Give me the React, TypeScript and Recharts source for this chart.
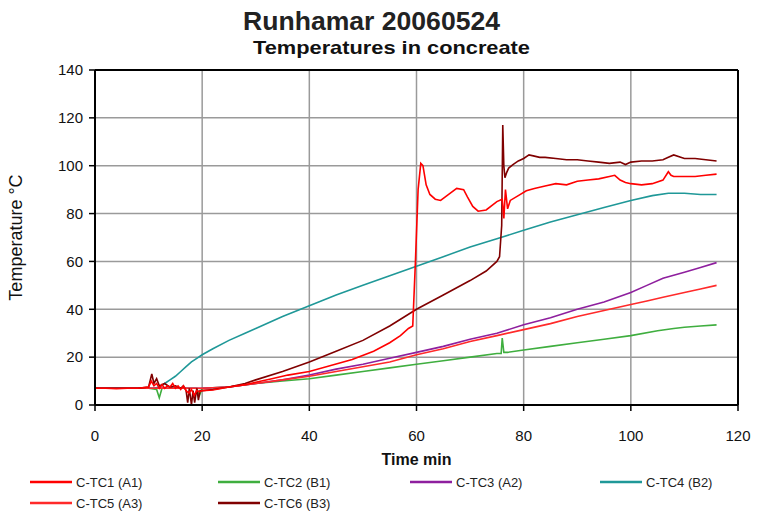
import React from "react";
import {
  CartesianGrid,
  Line,
  LineChart,
  ReferenceLine,
  XAxis,
  YAxis,
} from "recharts";

// Time ticks (min) and temperature ticks (°C)
const X_TICKS = [0, 20, 40, 60, 80, 100, 120];
const Y_TICKS = [0, 20, 40, 60, 80, 100, 120, 140];

// C-TC1 (A1)
const TC1_T = [
  0, 2, 4, 6, 8, 10, 10.5, 11, 11.5, 12, 12.5, 13, 13.5, 14, 14.5, 15, 15.5, 16,
  16.5, 17, 17.5, 18, 18.5, 19, 19.5, 20, 22, 25, 28, 30, 33, 36, 40, 44, 48,
  52, 55, 57, 58.5, 59.3, 59.8, 60.3, 60.8, 61.2, 61.8, 62.5, 63.5, 64.5, 66,
  67.5, 68.8, 69.5, 70.5, 71.5, 73, 75, 76, 76.3, 76.6, 77, 77.5, 79, 80.5, 82,
  84, 86, 88, 90, 92, 94, 96, 97, 98, 99, 100, 102, 104, 106, 107, 107.5, 108,
  110, 112, 114, 116,
];
const TC1_V = [
  7, 7, 6.8, 7, 7, 7.5, 10, 8, 9, 7, 8.5, 7, 8, 7.5, 9, 7, 8, 6.5, 8, 6, 5, 6.5,
  4, 6, 5.5, 6, 6.3, 7.5, 8.5, 9.5, 11, 12.5, 14, 16.5, 19, 22.5, 26, 29, 32,
  33, 60, 90, 101, 100, 92, 88, 86, 85.5, 88, 90.5, 90, 87, 83, 81, 81.5, 85,
  86, 78, 90, 82, 85.5, 87.5, 89.5, 90.5, 91.5, 92.5, 92, 93.5, 94, 94.5, 95.5,
  96, 94, 93, 92.5, 92, 92.5, 94, 97.5, 96, 95.5, 95.5, 95.5, 96, 96.5,
];

// C-TC2 (B1)
const TC2_T = [
  0, 5, 10, 11.5, 12, 12.5, 15, 19, 19.5, 20, 25, 30, 35, 40, 45, 50, 55, 60,
  65, 70, 75, 75.8, 76, 76.3, 77, 80, 85, 90, 95, 100, 105, 108, 110, 113, 116,
];
const TC2_V = [
  7, 7, 7, 6.5, 3, 7, 7, 7, 4, 7, 7.5, 9, 10, 11, 12.5, 14, 15.5, 17, 18.5, 20,
  21.5, 21.5, 28, 22, 22, 23, 24.5, 26, 27.5, 29, 31, 32, 32.5, 33, 33.5,
];

// C-TC3 (A2) and C-TC5 (A3) share one time grid
const TC35_T = [
  0, 5, 10, 15, 20, 25, 30, 35, 40, 45, 50, 55, 60, 65, 70, 75, 80, 85, 90, 95,
  100, 103, 106, 110, 113, 116,
];
const TC3_V = [
  7, 7, 7, 7, 7, 7.5, 9, 10.5, 12.5, 15, 17, 19.5, 22, 24.5, 27.5, 30, 33.5,
  36.5, 40, 43, 47, 50, 53, 55.5, 57.5, 59.5,
];
const TC5_V = [
  7, 7, 7, 7, 7, 7.5, 9, 10.5, 12, 14, 16, 18, 21, 23.5, 26.5, 29, 31.5, 34, 37,
  39.5, 42, 43.5, 45, 47, 48.5, 50,
];

// C-TC4 (B2)
const TC4_T = [
  0, 4, 8, 11, 12, 13, 14, 15, 16, 17, 18, 19, 20, 22, 25, 28, 30, 35, 40, 45,
  50, 55, 60, 65, 70, 75, 80, 85, 90, 95, 100, 104, 107, 110, 113, 116,
];
const TC4_V = [
  7, 7, 7, 7, 7.5, 9, 10.5, 12, 14, 16, 18, 19.5, 21, 23.5, 27, 30, 32, 37,
  41.5, 46, 50, 54, 58, 62, 66, 69.5, 73, 76.5, 79.5, 82.5, 85.5, 87.5, 88.5,
  88.5, 88, 88,
];

// C-TC6 (B3)
const TC6_T = [
  0, 2, 4, 6, 8, 10, 10.6, 11, 11.5, 12, 13, 14, 15, 16, 16.5, 17, 17.3, 17.6,
  18, 18.3, 18.6, 19, 19.3, 19.6, 20, 22, 25, 28, 30, 35, 40, 45, 50, 55, 60,
  65, 70, 73, 75, 75.5, 75.9, 76.1, 76.3, 76.5, 76.8, 77.2, 78, 79, 80, 81, 82,
  83, 84, 86, 88, 90, 92, 94, 96, 98, 99, 100, 102, 104, 106, 107, 108, 110,
  112, 114, 116,
];
const TC6_V = [
  7, 7, 7, 7, 7, 7.5, 13, 9, 11, 8, 9, 7.5, 8, 7, 8, 6, 1, 7, 0, 6, 1, 7, 2, 6,
  6, 6.5, 7.5, 9, 10.5, 14, 18, 22.5, 27, 33, 40, 46, 52, 56, 60, 62, 75, 117,
  100, 95, 97, 99, 100.5, 102, 103, 104.5, 104, 103.5, 103.5, 103, 102.5, 102.5,
  102, 101.5, 101, 101.5, 100.5, 101.5, 102, 102, 102.5, 103.5, 104.5, 103, 103,
  102.5, 102,
];

const SERIES = [
  { name: "C-TC1 (A1)", t: TC1_T, v: TC1_V, color: "#ff0000" },
  { name: "C-TC2 (B1)", t: TC2_T, v: TC2_V, color: "#3fae3f" },
  { name: "C-TC3 (A2)", t: TC35_T, v: TC3_V, color: "#8e1f9e" },
  { name: "C-TC4 (B2)", t: TC4_T, v: TC4_V, color: "#1f9898" },
  { name: "C-TC5 (A3)", t: TC35_T, v: TC5_V, color: "#ff2a2a" },
  { name: "C-TC6 (B3)", t: TC6_T, v: TC6_V, color: "#800000" },
];

const FONT = "'Liberation Sans', Arial, sans-serif";

// draw order: teal/green/purple/light red first, then TC6 and TC1 on top
const DRAW_ORDER = [3, 1, 2, 4, 5, 0];

export default function App() {
  const tick = { fontSize: 15, fill: "#111", fontFamily: FONT };
  return (
    <div
      style={{
        position: "absolute",
        left: 0,
        top: 0,
        width: 757,
        height: 513,
        background: "#fff",
        fontFamily: FONT,
        overflow: "hidden",
      }}
    >
      <svg
        width={757}
        height={60}
        style={{ position: "absolute", left: 0, top: 0 }}
      >
        <text
          x={243}
          y={30}
          fontSize={25}
          fontWeight="bold"
          fill="#222"
          textLength={257}
          lengthAdjust="spacingAndGlyphs"
          fontFamily={FONT}
        >
          Runhamar 20060524
        </text>
        <text
          x={253}
          y={54}
          fontSize={19}
          fontWeight="bold"
          fill="#111"
          textLength={277}
          lengthAdjust="spacingAndGlyphs"
          fontFamily={FONT}
        >
          Temperatures in concreate
        </text>
      </svg>

      <LineChart
        width={757}
        height={513}
        margin={{ top: 70, right: 19, bottom: 48, left: 0 }}
      >
        <CartesianGrid stroke="#9a9a9a" strokeWidth={1.5} />
        <XAxis
          dataKey="t"
          type="number"
          domain={[0, 120]}
          ticks={X_TICKS}
          allowDuplicatedCategory={false}
          height={60}
          tick={tick}
          tickSize={6}
          tickMargin={19}
          axisLine={{ stroke: "#000", strokeWidth: 2 }}
          tickLine={{ stroke: "#000", strokeWidth: 1.5 }}
          label={{
            value: "Time min",
            position: "insideBottom",
            offset: 0,
            style: {
              fontSize: 16,
              fontWeight: "bold",
              fill: "#111",
              fontFamily: FONT,
            },
          }}
        />
        <YAxis
          type="number"
          domain={[0, 140]}
          ticks={Y_TICKS}
          width={95}
          tick={tick}
          tickSize={6}
          tickMargin={6}
          axisLine={{ stroke: "#000", strokeWidth: 2 }}
          tickLine={{ stroke: "#000", strokeWidth: 1.5 }}
          label={{
            value: "Temperature °C",
            angle: -90,
            position: "insideLeft",
            offset: 16,
            style: {
              textAnchor: "middle",
              fontSize: 18,
              fill: "#111",
              fontFamily: FONT,
            },
          }}
        />
        <ReferenceLine y={140} stroke="#000" strokeWidth={2} />
        <ReferenceLine x={120} stroke="#000" strokeWidth={2} />
        {DRAW_ORDER.map((i) => {
          const s = SERIES[i];
          return (
            <Line
              key={s.name}
              data={s.t.map((t, k) => ({ t, v: s.v[k] }))}
              dataKey="v"
              name={s.name}
              type="linear"
              stroke={s.color}
              strokeWidth={1.6}
              dot={false}
              isAnimationActive={false}
            />
          );
        })}
      </LineChart>

      <div
        style={{
          position: "absolute",
          left: 30,
          top: 473,
          display: "grid",
          gridTemplateColumns: "188px 192px 190px 140px",
          rowGap: 3,
          fontSize: 13,
          color: "#222",
        }}
      >
        {SERIES.map((s) => (
          <div
            key={s.name}
            style={{ height: 18, display: "flex", alignItems: "center" }}
          >
            <svg width={46} height={10}>
              <line x1={0} y1={5} x2={42} y2={5} stroke={s.color} strokeWidth={2.5} />
            </svg>
            <span>{s.name}</span>
          </div>
        ))}
      </div>
    </div>
  );
}
